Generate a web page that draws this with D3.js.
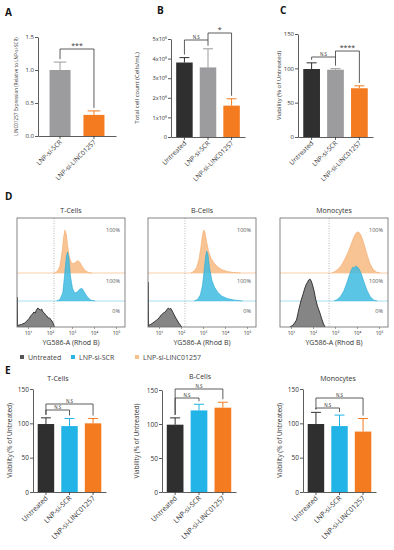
<!DOCTYPE html>
<html>
<head>
<meta charset="utf-8">
<script src="https://cdn.jsdelivr.net/npm/d3@7"></script>
<style>
body { margin: 0; background: #fff; }
text { font-family: "Open Sans", "DejaVu Sans", sans-serif; fill: #333; }
</style>
</head>
<body>
<svg id="fig" width="394" height="550"></svg>
<script>
// ---- data ----
var aGroups = ["LNP-si-SCR", "LNP-si-LINC01257"];
var aMean = [1.0, 0.32];
var aErr = [0.12, 0.06];

var treatGroups = ["Untreated", "LNP-si-SCR", "LNP-si-LINC01257"];
var bMean = [3.8e6, 3.55e6, 1.6e6];
var bErr = [0.25e6, 0.95e6, 0.35e6];
var cMean = [99, 98, 71];
var cErr = [9, 1.5, 3.5];

var eTMean = [99, 96, 100], eTErr = [9, 11, 7];
var eBMean = [99, 120, 124], eBErr = [10, 9, 8];
var eMMean = [99, 96, 88], eMErr = [17, 16, 19];

var aTicks = [0, 0.5, 1.0, 1.5];
var bTicks = [0, 1e6, 2e6, 3e6, 4e6, 5e6];
var vTicks = [0, 50, 100, 150];
var histTicks = [1e1, 1e2, 1e3, 1e4, 1e5];
var supDigits = ["⁰", "¹", "²", "³", "⁴", "⁵", "⁶"];

// histograms: [log10 intensity, % of mode]
var tOrange = [[2.2,0],[2.35,4],[2.45,14],[2.55,42],[2.62,72],[2.68,86],[2.74,78],[2.8,55],[2.88,32],[2.98,20],[3.08,19],[3.18,22],[3.27,25],[3.36,21],[3.48,12],[3.6,5],[3.75,1],[3.9,0]];
var tBlue = [[2.3,0],[2.45,3],[2.58,16],[2.66,50],[2.74,88],[2.8,98],[2.86,86],[2.93,50],[3.02,26],[3.12,16],[3.24,18],[3.36,24],[3.46,25],[3.56,18],[3.7,8],[3.85,2],[4.05,0]];
var tGray = [[0.5,0],[0.5,60],[0.52,3],[0.7,5],[0.85,8],[0.95,12],[1.05,17],[1.12,22],[1.2,26],[1.27,30],[1.33,28],[1.38,34],[1.45,38],[1.5,36],[1.56,34],[1.62,36],[1.68,30],[1.74,28],[1.8,24],[1.86,22],[1.92,18],[1.98,18],[2.05,14],[2.12,10],[2.16,6],[2.2,0]];
var bOrange = [[2.45,0],[2.6,4],[2.72,12],[2.82,28],[2.9,50],[2.97,74],[3.03,86],[3.09,82],[3.16,64],[3.25,44],[3.36,30],[3.5,20],[3.65,13],[3.85,7],[4.1,3],[4.4,1],[4.7,0]];
var bBlue = [[2.6,0],[2.75,3],[2.88,12],[2.98,32],[3.06,64],[3.12,90],[3.17,100],[3.23,92],[3.3,66],[3.4,42],[3.52,28],[3.66,18],[3.85,10],[4.1,5],[4.4,2],[4.8,0]];
var bGray = [[0.5,0],[0.5,90],[0.52,3],[0.65,6],[0.78,10],[0.9,14],[1.0,18],[1.1,24],[1.2,28],[1.28,30],[1.35,34],[1.42,38],[1.48,36],[1.54,37],[1.6,32],[1.67,26],[1.74,20],[1.82,14],[1.9,8],[1.97,4],[2.03,0]];
var mOrange = [[2.85,0],[3.0,3],[3.15,8],[3.3,16],[3.45,28],[3.6,42],[3.72,56],[3.84,70],[3.94,79],[4.02,82],[4.1,81],[4.2,74],[4.32,58],[4.45,38],[4.58,20],[4.72,8],[4.88,2],[5.05,0]];
var mBlue = [[2.95,0],[3.1,3],[3.25,9],[3.4,20],[3.52,34],[3.64,50],[3.74,62],[3.82,68],[3.88,66],[3.94,70],[4.02,68],[4.1,64],[4.2,54],[4.32,38],[4.45,22],[4.6,9],[4.75,2],[4.92,0]];
var mGray = [[0.95,0],[1.1,4],[1.25,14],[1.35,34],[1.45,52],[1.55,66],[1.63,78],[1.7,86],[1.76,90],[1.8,94],[1.86,96],[1.92,92],[1.98,84],[2.05,72],[2.12,56],[2.2,42],[2.3,30],[2.4,16],[2.48,6],[2.55,0]];

var histNames = ["T-Cells", "B-Cells", "Monocytes"];
var histGates = [2.18, 2.18, 2.73];
var legendNames = ["Untreated", "LNP-si-SCR", "LNP-si-LINC01257"];

// ---- style ----
var colBlack = "#2f2f2f", colGray = "#9c9c9e", colOrange = "#f47b20", colBlue = "#22b4e6";
var hOrangeFill = "#f9c493", hOrangeLine = "#f4a869";
var hBlueFill = "#3ebbe0", hBlueLine = "#2aa9d4";

var svg = d3.select("#fig");

function letter(t, x, y) {
  svg.append("text").attr("x", x).attr("y", y).text(t)
    .style("font-size", "10px").style("font-weight", "bold").style("fill", "#111");
}

function barPanel(o) {
  var g = svg.append("g");
  var x = d3.scaleBand().domain(o.groups).range([o.x0, o.x1])
      .paddingInner(o.padIn).paddingOuter(o.padOut);
  var y = d3.scaleLinear().domain([0, o.max]).range([o.yBot, o.yTop]);
  var bw = x.bandwidth();

  var ya = g.append("g").attr("transform", "translate(" + o.x0 + ",0)")
    .call(d3.axisLeft(y).tickValues(o.ticks).tickFormat(o.fmt).tickSize(3).tickSizeOuter(0));
  ya.selectAll("text").style("font-size", o.tickFont + "px").attr("x", -4);

  var xa = g.append("g").attr("transform", "translate(0," + o.yBot + ")")
    .call(d3.axisBottom(x).tickSize(3).tickSizeOuter(0));
  xa.selectAll("text")
    .attr("text-anchor", "end").attr("x", -3).attr("y", 4).attr("dy", "0.35em")
    .attr("transform", "rotate(-45)")
    .style("font-size", o.labFont + "px");
  g.selectAll(".domain, .tick line").attr("stroke", "#333").attr("stroke-width", 0.8);

  g.selectAll(".bar").data(o.means).enter().append("rect")
    .attr("x", function(d, i) { return x(o.groups[i]); })
    .attr("y", function(d) { return y(d); })
    .attr("width", bw)
    .attr("height", function(d) { return o.yBot - y(d); })
    .attr("fill", function(d, i) { return o.colors[i]; });

  o.means.forEach(function(m, i) {
    var cx = x(o.groups[i]) + bw / 2;
    var top = y(m + o.errs[i]);
    g.append("line").attr("x1", cx).attr("x2", cx).attr("y1", y(m)).attr("y2", top)
      .attr("stroke", o.colors[i]).attr("stroke-width", 1);
    g.append("line").attr("x1", cx - bw * 0.3).attr("x2", cx + bw * 0.3).attr("y1", top).attr("y2", top)
      .attr("stroke", o.colors[i]).attr("stroke-width", 1);
  });

  (o.brackets || []).forEach(function(b) {
    var xa1 = x(o.groups[b.a]) + bw / 2, xb1 = x(o.groups[b.b]) + bw / 2;
    var da = b.downA != null ? b.downA : y(o.means[b.a] + o.errs[b.a]) - 3;
    var db = b.downB != null ? b.downB : y(o.means[b.b] + o.errs[b.b]) - 3;
    g.append("path")
      .attr("d", "M" + xa1 + "," + da + "V" + b.y + "H" + xb1 + "V" + db)
      .attr("fill", "none").attr("stroke", "#333").attr("stroke-width", 0.8);
    g.append("text").attr("x", (xa1 + xb1) / 2).attr("y", b.y - 1.5)
      .attr("text-anchor", "middle").text(b.text)
      .style("font-size", (b.text === "N.S" ? 4.5 : 7) + "px");
  });

  g.append("text")
    .attr("transform", "translate(" + o.labX + "," + ((o.yTop + o.yBot) / 2) + ") rotate(-90)")
    .attr("text-anchor", "middle").text(o.ylabel)
    .style("font-size", o.ylabFont + "px");

  if (o.title) {
    g.append("text").attr("x", o.titleX).attr("y", o.titleY).attr("text-anchor", "middle")
      .text(o.title).style("font-size", "7px");
  }
}

function sciFmt(d) {
  if (d === 0) return "0";
  return (d / 1e6) + "x10" + supDigits[6];
}

// ---- panel A ----
letter("A", 5, 16);
barPanel({
  groups: aGroups, means: aMean, errs: aErr, colors: [colGray, colOrange],
  x0: 38, x1: 116, padIn: 0.38, padOut: 0.34, yTop: 37, yBot: 136, max: 1.5,
  ticks: aTicks, fmt: d3.format(".1f"), tickFont: 6, labFont: 6.5,
  ylabel: "LINC01257 Expression (Relative to LNP-si-SCR)", labX: 18, ylabFont: 4.6,
  brackets: [{ a: 0, b: 1, y: 49, text: "***" }]
});

// ---- panel B ----
letter("B", 157, 14);
barPanel({
  groups: treatGroups, means: bMean, errs: bErr, colors: [colBlack, colGray, colOrange],
  x0: 171, x1: 245, padIn: 0.3, padOut: 0.22, yTop: 39, yBot: 137, max: 5e6,
  ticks: bTicks, fmt: sciFmt, tickFont: 5.6, labFont: 6.5,
  ylabel: "Total cell count (Cells/mL)", labX: 139, ylabFont: 6,
  brackets: [
    { a: 0, b: 1, y: 40, text: "N.S" },
    { a: 1, b: 2, y: 33, text: "*", downA: 40 }
  ]
});

// ---- panel C ----
letter("C", 280, 14);
barPanel({
  groups: treatGroups, means: cMean, errs: cErr, colors: [colBlack, colGray, colOrange],
  x0: 298, x1: 373, padIn: 0.3, padOut: 0.22, yTop: 34, yBot: 137, max: 150,
  ticks: vTicks, fmt: d3.format("d"), tickFont: 6, labFont: 6.5,
  ylabel: "Viability (% of Untreated)", labX: 281, ylabFont: 6,
  brackets: [
    { a: 0, b: 1, y: 57, text: "N.S" },
    { a: 1, b: 2, y: 51, text: "****", downA: 57 }
  ]
});

// ---- panel D: histograms ----
letter("D", 5, 200);
var boxLefts = [17, 148, 280], boxW = 108, boxTop = 218, boxBot = 327;
var baseOrange = 273, baseBlue = 301;
var histSets = [[tOrange, tBlue, tGray], [bOrange, bBlue, bGray], [mOrange, mBlue, mGray]];
var hy = d3.scaleLinear().domain([0, 100]).range([0, 50]);

histSets.forEach(function(set, k) {
  var left = boxLefts[k];
  var g = svg.append("g");
  var hx = d3.scaleLog().domain([Math.pow(10, 0.5), Math.pow(10, 5.41)]).range([left, left + boxW]);
  var clipId = "clip" + k;
  g.append("clipPath").attr("id", clipId).append("rect")
    .attr("x", left).attr("y", boxTop).attr("width", boxW).attr("height", boxBot - boxTop);

  var area = function(base) {
    return d3.area()
      .x(function(d) { return hx(Math.pow(10, d[0])); })
      .y0(base)
      .y1(function(d) { return base - hy(d[1]); });
  };
  var line = function(base) {
    return d3.line()
      .x(function(d) { return hx(Math.pow(10, d[0])); })
      .y(function(d) { return base - hy(d[1]); });
  };
  var pg = g.append("g").attr("clip-path", "url(#" + clipId + ")");

  // track baselines
  pg.append("line").attr("x1", left).attr("x2", left + boxW).attr("y1", baseOrange).attr("y2", baseOrange)
    .attr("stroke", "#f8cfa8").attr("stroke-width", 1);
  pg.append("line").attr("x1", left).attr("x2", left + boxW).attr("y1", baseBlue).attr("y2", baseBlue)
    .attr("stroke", "#a8def0").attr("stroke-width", 1);

  pg.append("path").datum(set[0]).attr("d", area(baseOrange)).attr("fill", hOrangeFill);
  pg.append("path").datum(set[0]).attr("d", line(baseOrange)).attr("fill", "none")
    .attr("stroke", hOrangeLine).attr("stroke-width", 0.6);
  pg.append("path").datum(set[1]).attr("d", area(baseBlue)).attr("fill", hBlueFill).attr("fill-opacity", 0.85);
  pg.append("path").datum(set[1]).attr("d", line(baseBlue)).attr("fill", "none")
    .attr("stroke", hBlueLine).attr("stroke-width", 0.6);
  pg.append("path").datum(set[2]).attr("d", area(boxBot)).attr("fill", "#858585");
  pg.append("path").datum(set[2]).attr("d", line(boxBot)).attr("fill", "none")
    .attr("stroke", "#2a2a2a").attr("stroke-width", 0.9);

  // gate
  var gx = hx(Math.pow(10, histGates[k]));
  g.append("line").attr("x1", gx).attr("x2", gx).attr("y1", boxTop).attr("y2", boxBot)
    .attr("stroke", "#999").attr("stroke-width", 0.7).attr("stroke-dasharray", "1,1.5");

  g.append("rect").attr("x", left).attr("y", boxTop).attr("width", boxW).attr("height", boxBot - boxTop)
    .attr("fill", "none").attr("stroke", "#666").attr("stroke-width", 0.8);

  var ax = g.append("g").attr("transform", "translate(0," + boxBot + ")")
    .call(d3.axisBottom(hx).tickValues(histTicks).tickSize(2).tickSizeOuter(0)
      .tickFormat(function(d) { return "10" + supDigits[Math.round(Math.log10(d))]; }));
  ax.select(".domain").remove();
  ax.selectAll(".tick line").attr("stroke", "#666").attr("stroke-width", 0.6);
  ax.selectAll("text").style("font-size", "5px").attr("y", 4);

  g.append("text").attr("x", left + boxW / 2).attr("y", 345).attr("text-anchor", "middle")
    .text("YG586-A (Rhod B)").style("font-size", "7px");
  g.append("text").attr("x", left + boxW / 2).attr("y", 213).attr("text-anchor", "middle")
    .text(histNames[k]).style("font-size", "7px");

  [["100%", 232], ["100%", 283], ["0%", 313]].forEach(function(p) {
    g.append("text").attr("x", left + boxW - 5).attr("y", p[1]).attr("text-anchor", "end")
      .text(p[0]).style("font-size", "5.5px").style("fill", "#555");
  });
});

// legend
var legColors = ["#555", "#2ab6e4", "#f8c18c"];
var legX = [20, 71, 135];
legendNames.forEach(function(n, i) {
  svg.append("rect").attr("x", legX[i]).attr("y", 355).attr("width", 4).attr("height", 4).attr("fill", legColors[i]);
  svg.append("text").attr("x", legX[i] + 8).attr("y", 359.5).text(n).style("font-size", "7px").style("fill", "#444");
});

// ---- panel E ----
letter("E", 5, 374);
var eCols = [colBlack, colBlue, colOrange];
barPanel({
  groups: treatGroups, means: eTMean, errs: eTErr, colors: eCols,
  x0: 33, x1: 106, padIn: 0.3, padOut: 0.2, yTop: 389, yBot: 492, max: 150,
  ticks: vTicks, fmt: d3.format("d"), tickFont: 6.5, labFont: 7,
  ylabel: "Viability (% of Untreated)", labX: 12, ylabFont: 6.5,
  title: "T-Cells", titleX: 58, titleY: 381,
  brackets: [
    { a: 0, b: 2, y: 404, text: "N.S" },
    { a: 0, b: 1, y: 410, text: "N.S" }
  ]
});
barPanel({
  groups: treatGroups, means: eBMean, errs: eBErr, colors: eCols,
  x0: 162, x1: 236, padIn: 0.3, padOut: 0.2, yTop: 390, yBot: 492, max: 150,
  ticks: vTicks, fmt: d3.format("d"), tickFont: 6.5, labFont: 7,
  ylabel: "Viability (% of Untreated)", labX: 139, ylabFont: 6.5,
  title: "B-Cells", titleX: 200, titleY: 379,
  brackets: [
    { a: 0, b: 2, y: 389, text: "N.S" },
    { a: 0, b: 1, y: 398, text: "N.S" }
  ]
});
barPanel({
  groups: treatGroups, means: eMMean, errs: eMErr, colors: eCols,
  x0: 303, x1: 376, padIn: 0.3, padOut: 0.2, yTop: 389, yBot: 492, max: 150,
  ticks: vTicks, fmt: d3.format("d"), tickFont: 6.5, labFont: 7,
  ylabel: "Viability (% of Untreated)", labX: 282, ylabFont: 6.5,
  title: "Monocytes", titleX: 338, titleY: 381,
  brackets: [
    { a: 0, b: 2, y: 398, text: "N.S" },
    { a: 0, b: 1, y: 408, text: "N.S" }
  ]
});
</script>
</body>
</html>
